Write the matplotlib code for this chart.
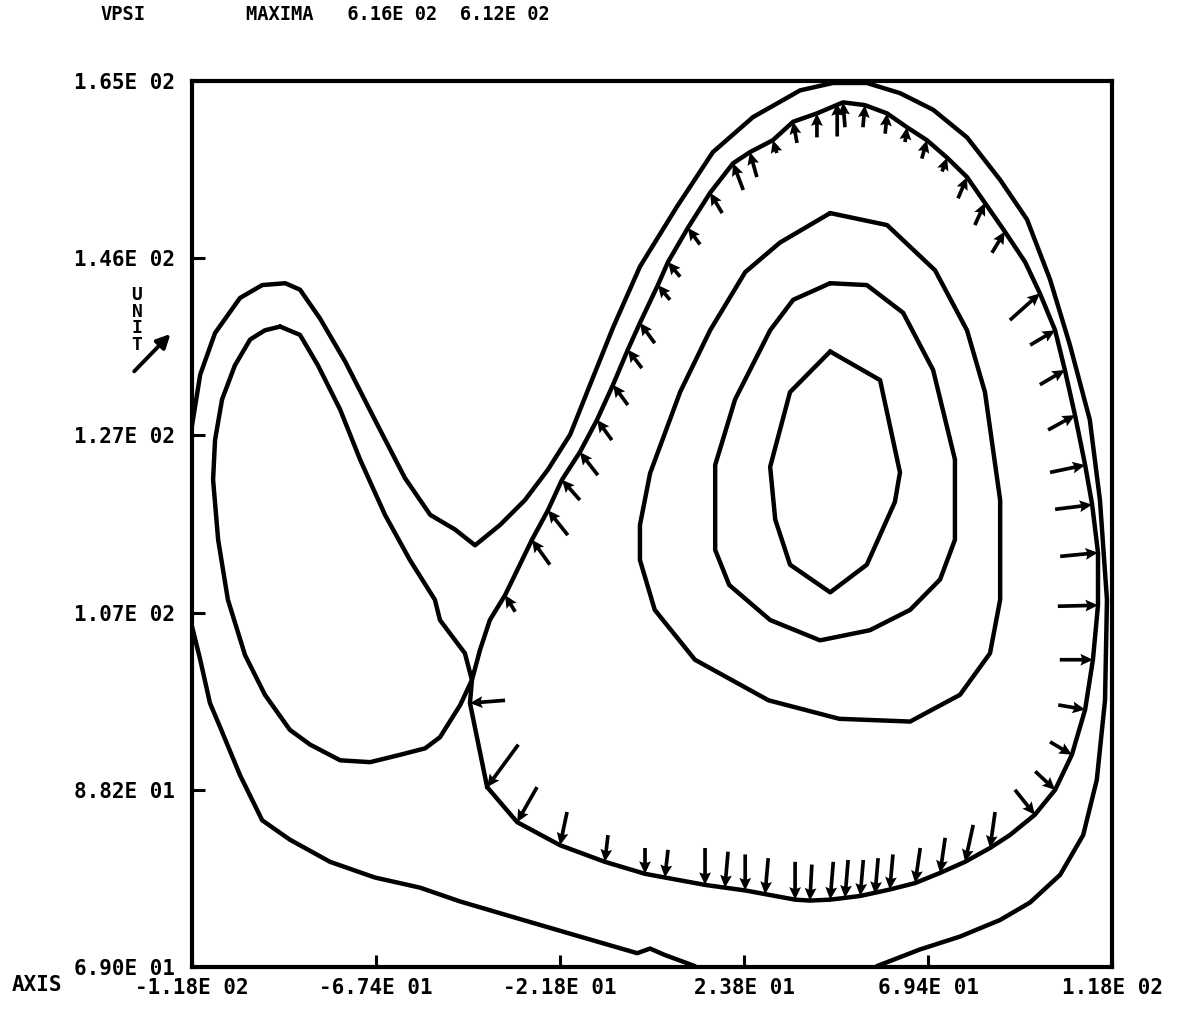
import numpy as np
import matplotlib.pyplot as plt

# contour lines of VPSI
outer_x = [-118.0, -115.9, -112.1, -105.7, -100.0, -94.1, -90.3, -85.2, -78.7, -71.1,
           -63.4, -56.9, -50.5, -45.4, -39.0, -32.6, -26.7, -21.0, -15.9, -10.0,
           -3.1, 6.4, 15.6, 25.9, 38.0, 46.4, 55.1, 63.6, 72.1, 80.8,
           89.3, 96.2, 102.1, 107.2, 112.3, 114.9, 116.7, 116.2, 114.1, 110.6,
           104.7, 97.0, 89.3, 79.0, 68.7, 57.7]
outer_y = [127.7, 133.2, 137.7, 141.5, 142.9, 143.1, 142.4, 139.3, 134.6, 128.3,
           122.0, 118.0, 116.4, 114.7, 116.9, 119.6, 122.9, 126.7, 132.1, 138.3,
           144.9, 151.4, 157.3, 161.1, 164.0, 164.8, 164.8, 163.7, 161.9, 158.9,
           154.3, 150.0, 143.5, 136.4, 128.3, 119.6, 108.8, 97.9, 89.3, 83.3,
           79.0, 76.0, 74.1, 72.3, 70.9, 69.1]

lower_x = [-118.0, -115.9, -113.4, -110.8, -105.7, -100.0, -92.9, -82.6, -71.1, -59.5,
           -49.2, -33.1, -18.5, -3.8, -0.5, 3.3, 11.0]
lower_y = [105.9, 102.3, 97.6, 95.0, 89.8, 84.9, 82.8, 80.4, 78.7, 77.6,
           76.1, 74.1, 72.3, 70.5, 71.0, 70.3, 69.1]

left_x = [-95.4, -90.3, -85.7, -80.0, -74.9, -68.5, -62.1, -55.7, -54.4, -50.5,
          -48.0, -46.2, -49.2, -54.4, -58.2, -64.6, -72.3, -80.0, -87.7, -92.9,
          -99.3, -104.4, -108.8, -111.3, -112.6, -112.1, -110.3, -107.0, -103.1, -99.3, -95.4]
left_y = [138.4, 137.5, 134.2, 129.4, 124.0, 118.0, 113.1, 108.8, 106.6, 104.4,
          103.0, 100.1, 97.4, 93.9, 92.7, 92.0, 91.2, 91.4, 93.1, 94.7,
          98.5, 102.8, 108.8, 115.3, 121.8, 126.1, 130.5, 134.2, 137.0, 138.0, 138.4]

arrow_line_x = [-42.3, -46.7, -46.2, -44.1, -41.6, -37.7, -33.9, -30.8, -26.7, -23.1,
                -18.5, -14.1, -10.0, -6.2, -3.1, 1.5, 4.1, 9.2, 14.9, 20.8,
                25.1, 31.0, 36.2, 42.3, 49.0, 54.6, 60.3, 65.4, 70.5, 75.7,
                80.8, 85.4, 90.5, 95.7, 99.5, 103.4, 105.9, 108.5, 111.1, 112.9,
                114.4, 114.4, 113.1, 111.1, 107.7, 103.4, 98.2, 91.8, 86.7, 80.3,
                73.9, 67.5, 61.0, 53.4, 45.7, 40.5, 36.7, 29.0, 23.9, 18.7,
                13.6, 3.3, -1.8, -12.1, -23.6, -34.6, -42.3]
arrow_line_y = [88.5, 97.6, 100.1, 103.4, 106.6, 109.3, 112.6, 115.3, 118.5, 121.8,
                124.8, 128.3, 132.1, 135.9, 138.8, 142.9, 145.4, 149.1, 152.9, 156.1,
                157.3, 158.6, 160.6, 161.5, 162.7, 162.4, 161.5, 160.0, 158.6, 156.7,
                154.6, 151.8, 148.7, 145.4, 142.0, 138.0, 133.7, 128.8, 123.4, 119.1,
                113.9, 108.2, 102.3, 96.9, 92.0, 88.2, 85.5, 83.3, 81.9, 80.4,
                79.2, 78.1, 77.4, 76.7, 76.3, 76.2, 76.3, 76.9, 77.3, 77.6,
                77.9, 78.7, 79.1, 80.4, 82.2, 84.7, 88.5]

mid_x = [45.7, 60.3, 72.6, 80.8, 85.4, 89.3, 89.3, 86.7, 79.0, 66.2, 48.0, 29.9, 11.0, 0.7,
         -3.1, -3.1, -0.5, 7.2, 14.9, 23.9, 32.8, 45.7]
mid_y = [150.7, 149.4, 144.5, 138.0, 131.3, 119.6, 108.8, 103.0, 98.5, 95.6, 95.9, 97.9, 102.3, 107.7,
         113.1, 116.9, 122.5, 131.3, 138.0, 144.3, 147.5, 150.7]

inner_x = [45.7, 55.1, 64.4, 72.1, 77.7, 77.7, 73.9, 66.2, 55.9, 43.1, 30.3, 19.8, 16.2, 16.2, 21.3, 30.3, 36.2, 45.7]
inner_y = [143.1, 142.9, 139.9, 133.7, 124.0, 115.3, 111.0, 107.7, 105.5, 104.4, 106.6, 110.4, 114.2, 123.4, 130.5, 138.0, 141.3, 143.1]

core_x = [45.7, 58.5, 63.6, 62.3, 55.1, 45.7, 35.4, 31.6, 30.3, 35.4, 45.7]
core_y = [135.7, 132.6, 122.6, 119.4, 112.6, 109.6, 112.6, 117.5, 123.2, 131.3, 135.7]

# velocity vectors drawn along one streamline (tip on the line)
vec_x = [-46.7, -42.3, -34.6, -23.6, -12.1, -1.8, 3.3, 13.6, 18.7, 23.9,
         29.0, 36.7, 40.5, 45.7, 49.5, 53.4, 57.2, 61.0, 67.5, 73.9,
         80.3, 86.7, 98.2, 103.4, 107.7, 111.1, 113.1, 114.4, 114.4, 112.9,
         111.1, 108.5, 105.9, 103.4, 99.5, 90.5, 85.4, 80.8, 75.7, 70.5,
         65.4, 60.3, 54.6, 49.0, 47.5, 42.3, 36.2, 31.0, 25.1, 20.8,
         14.9, 9.2, 4.1, 1.5, -3.1, -6.2, -10.0, -14.1, -18.5, -23.1,
         -26.7, -30.8, -37.7]
vec_y = [97.6, 88.5, 84.7, 82.2, 80.4, 79.1, 78.7, 77.9, 77.6, 77.3,
         76.9, 76.3, 76.2, 76.3, 76.5, 76.7, 76.9, 77.4, 78.1, 79.2,
         80.4, 81.9, 85.5, 88.2, 92.0, 96.9, 102.3, 108.2, 113.9, 119.1,
         123.4, 128.8, 133.7, 138.0, 142.0, 148.7, 151.8, 154.6, 156.7, 158.6,
         160.0, 161.5, 162.4, 162.7, 162.6, 161.5, 160.6, 158.6, 157.3, 156.1,
         152.9, 149.1, 145.4, 142.9, 138.8, 135.9, 132.1, 128.3, 124.8, 121.8,
         118.5, 115.3, 109.3]
vec_u = [-9.0, -8.0, -5.1, -1.8, -0.8, 0.0, -0.8, 0.0, -0.8, 0.0,
         -0.8, 0.0, -0.5, -0.8, -0.8, -0.8, -0.8, -0.8, -1.3, -1.3,
         -2.1, -1.3, 5.1, 5.1, 5.6, 6.9, 8.5, 10.3, 9.7, 9.5,
         9.0, 6.9, 6.4, 6.4, 7.7, 3.3, 2.6, 2.3, 1.3, 1.3,
         0.5, 0.5, 0.5, -0.5, 0.0, 0.0, -1.0, -1.0, -1.8, -2.6,
         -3.1, -3.1, -3.1, -3.1, -3.8, -3.6, -3.8, -3.8, -4.6, -4.6,
         -5.1, -4.6, -2.6]
vec_v = [-0.3, -4.6, -3.8, -3.6, -2.9, -2.8, -3.0, -4.0, -3.9, -3.9,
         -3.9, -4.1, -3.9, -4.1, -4.1, -3.9, -3.9, -3.8, -3.8, -3.8,
         -4.0, -3.9, -2.7, -2.0, -1.4, -0.5, 0.0, 0.1, 0.4, 0.5,
         0.8, 1.6, 1.6, 1.6, 2.9, 2.3, 2.4, 2.3, 1.5, 2.0,
         1.6, 2.2, 2.4, 2.7, 3.6, 2.6, 2.3, 1.4, 2.7, 2.9,
         2.2, 1.8, 1.6, 1.6, 2.2, 2.0, 2.2, 2.2, 2.5, 2.2,
         2.7, 2.7, 1.8]

xtick_labels = ['-1.18E 02', '-6.74E 01', '-2.18E 01', '2.38E 01', '6.94E 01', '1.18E 02']
ytick_labels = ['6.90E 01', '8.82E 01', '1.07E 02', '1.27E 02', '1.46E 02', '1.65E 02']
x_min, x_max = -118.0, 118.0
y_min, y_max = 69.0, 165.0

mono = 'DejaVu Sans Mono'

fig = plt.figure(figsize=(11.81, 10.09), dpi=100)
ax = fig.add_axes([0.1626, 0.0416, 0.779, 0.878])

lw = 3.2
for xs, ys in [(outer_x, outer_y), (lower_x, lower_y), (left_x, left_y),
               (arrow_line_x, arrow_line_y), (mid_x, mid_y), (inner_x, inner_y),
               (core_x, core_y)]:
    ax.plot(xs, ys, color='black', lw=lw, solid_joinstyle='round', solid_capstyle='round')

ax.quiver(vec_x, vec_y, vec_u, vec_v, angles='xy', scale_units='xy', scale=1,
          pivot='tip', color='black', width=0.0040, headwidth=3.2, headlength=3.4,
          headaxislength=3.0)

ax.set_xlim(x_min, x_max)
ax.set_ylim(y_min, y_max)
ax.set_xticks(np.linspace(x_min, x_max, len(xtick_labels)))
ax.set_yticks(np.linspace(y_min, y_max, len(ytick_labels)))
ax.set_xticklabels(xtick_labels, fontfamily=mono, fontweight='bold', fontsize=15)
ax.set_yticklabels(ytick_labels, fontfamily=mono, fontweight='bold', fontsize=15)
ax.tick_params(direction='in', length=9, width=2.2, top=False, right=False)
ax.tick_params(axis='y', pad=12)
ax.tick_params(axis='x', pad=8)
for s in ax.spines.values():
    s.set_linewidth(3.0)

# header and axis notes
fig.text(0.085, 0.986, 'VPSI', fontfamily=mono, fontweight='bold', fontsize=13.5, va='center')
fig.text(0.208, 0.986, 'MAXIMA   6.16E 02  6.12E 02', fontfamily=mono, fontweight='bold',
         fontsize=13.5, va='center')
fig.text(0.010, 0.024, 'AXIS', fontfamily=mono, fontweight='bold', fontsize=15, va='center')

# unit vector key
fig.text(0.116, 0.683, 'U\nN\nI\nT', fontfamily=mono, fontweight='bold', fontsize=13,
         ha='center', va='center', linespacing=0.9)
ax.annotate('', xy=(0.146, 0.671), xytext=(0.112, 0.630), xycoords='figure fraction',
            textcoords='figure fraction',
            arrowprops=dict(arrowstyle='-|>', color='black', lw=2.8, mutation_scale=20))

fig.savefig('out.png', dpi=100)
